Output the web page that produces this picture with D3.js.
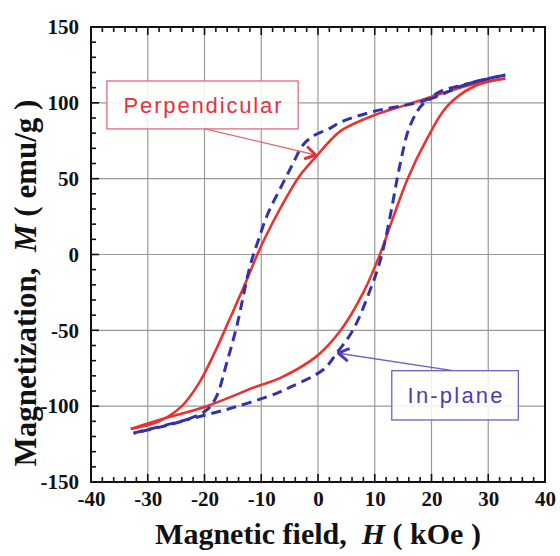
<!DOCTYPE html>
<html>
<head>
<meta charset="utf-8">
<script src="https://cdn.jsdelivr.net/npm/d3@7"></script>
<style>
	body { margin: 0; background: #fff; }
	#chart { width: 560px; height: 556px; }
</style>
</head>
<body>
<div id="chart"></div>
<script>
// ----------------------------------
// data (H in kOe, M in emu/g)
// ----------------------------------
const xTicks = [-40, -30, -20, -10, 0, 10, 20, 30, 40];
const yTicks = [-150, -100, -50, 0, 50, 100, 150];

// perpendicular loop, red solid
const perpDown = [[33,116],[27,112],[20,104],[15,98],[10,92],[4.2,82],[2,74.5],[0,66],[-3.4,51],[-6.4,32],[-9.2,12],[-10.8,-1],[-12.8,-19],[-15.5,-42],[-18,-63],[-21,-85],[-24,-100],[-28,-110],[-33,-115]];
const perpUp = [[-33,-115],[-27,-108],[-19.6,-100],[-10.8,-87],[-6.7,-81.5],[-0.2,-67],[4,-50],[8,-25],[10.9,0],[13.3,25],[15.8,50],[19.1,75.5],[22.7,97.5],[27.4,110.6],[33,116]];

// in-plane loop, blue dashed
const inDown = [[33,118.4],[26.8,113],[21.5,107.4],[19.1,102],[9.8,94.3],[4.2,87.6],[2.1,83.2],[-1.1,77.5],[-2.9,71],[-4.1,62.3],[-5.9,49],[-8.8,27.2],[-10.5,9.6],[-12,-8],[-14.3,-47],[-16.1,-71.7],[-17.9,-93.7],[-19.6,-102.5],[-23.2,-109],[-32.5,-117.8]];
const inUp = [[-32.5,-117.8],[-23.2,-109],[-15,-101],[-7.3,-91.5],[-4.9,-87.5],[0.9,-76],[3.3,-65],[6.2,-49.6],[9.2,-23.3],[11,-3.6],[12.7,25],[14.4,58.3],[16.2,84.7],[18.6,99.7],[21.5,105],[26.8,113],[33,118.4]];

// labels: box corners, arrow start and tip (data units)
const labelNames = ['Perpendicular', 'In-plane'];
const labelBoxes = [[-37.2,114.4,-3.5,82.8],[13.0,-76.6,35.3,-109.1]];
const labelArrows = [[-19.9,82.8,-0.4,65.6],[23.8,-76.6,3.6,-65.1]];

const serif = '"Liberation Serif", "Times New Roman", serif';
const sans = '"Liberation Sans", Arial, sans-serif';

const container = d3.select('#chart'),
		width = 560,
		height = 556,
		margin = {top: 27, right: 15, bottom: 74, left: 91},
		innerWidth = width - margin.left - margin.right,
		innerHeight = height - margin.top - margin.bottom;

const xScale = d3.scaleLinear().domain([-40, 40]).range([0, innerWidth]);
const yScale = d3.scaleLinear().domain([-150, 150]).range([innerHeight, 0]);

const svg = container.append('svg')
	.attr('width', width)
	.attr('height', height);

const g = svg.append('g')
	.attr('transform', `translate(${margin.left},${margin.top})`);

// ----------------------------------
// grid
// ----------------------------------
const grid = g.append('g').classed('grid', true);
xTicks.slice(1, -1).forEach(t => {
	grid.append('line')
		.attr('x1', xScale(t)).attr('x2', xScale(t))
		.attr('y1', 0).attr('y2', innerHeight)
		.style('stroke', '#999').style('stroke-width', 1.2);
});
yTicks.slice(1, -1).forEach(t => {
	grid.append('line')
		.attr('x1', 0).attr('x2', innerWidth)
		.attr('y1', yScale(t)).attr('y2', yScale(t))
		.style('stroke', '#999').style('stroke-width', 1.2);
});

// ----------------------------------
// axes, ticks inward
// ----------------------------------
const xMinor = d3.range(-40, 40.1, 2);
const yMinor = d3.range(-150, 150.1, 10);

function tickLen(v, step){ return Math.abs(v % step) < 1e-6 ? 8 : 5; }

const ticks = g.append('g').classed('ticks', true);
xMinor.forEach(v => {
	const L = tickLen(v, 10);
	ticks.append('line').attr('x1', xScale(v)).attr('x2', xScale(v))
		.attr('y1', innerHeight).attr('y2', innerHeight - L);
	ticks.append('line').attr('x1', xScale(v)).attr('x2', xScale(v))
		.attr('y1', 0).attr('y2', L);
});
yMinor.forEach(v => {
	const L = tickLen(v, 50);
	ticks.append('line').attr('x1', 0).attr('x2', L)
		.attr('y1', yScale(v)).attr('y2', yScale(v));
});
ticks.selectAll('line').style('stroke', '#111').style('stroke-width', 1.6);

// plain hyphen for negatives, like the original
const xAxis = d3.axisBottom(xScale).tickValues(xTicks).tickSize(0).tickPadding(9).tickFormat(d => String(d));
const yAxis = d3.axisLeft(yScale).tickValues(yTicks).tickSize(0).tickPadding(12).tickFormat(d => String(d));

g.append('g')
	.attr('class', 'x axis')
	.attr('transform', `translate(0,${innerHeight})`)
	.call(xAxis)
	.call(s => s.select('.domain').remove());

g.append('g')
	.attr('class', 'y axis')
	.call(yAxis)
	.call(s => s.select('.domain').remove());

g.selectAll('.axis text')
	.style('font-family', serif)
	.style('font-size', '21px')
	.style('font-weight', 'bold')
	.style('fill', '#111');

// frame
g.append('rect')
	.attr('width', innerWidth)
	.attr('height', innerHeight)
	.style('fill', 'none')
	.style('stroke', '#111')
	.style('stroke-width', 2);

// ----------------------------------
// loops
// ----------------------------------
const line = d3.line()
	.x(d => xScale(d[0]))
	.y(d => yScale(d[1]))
	.curve(d3.curveCatmullRom.alpha(0.5));

const loops = g.append('g').classed('loops', true);
[perpDown, perpUp].forEach(branch => {
	loops.append('path')
		.datum(branch)
		.attr('d', line)
		.style('fill', 'none')
		.style('stroke', '#e8332f')
		.style('stroke-width', 2.6);
});
[inDown, inUp].forEach(branch => {
	loops.append('path')
		.datum(branch)
		.attr('d', line)
		.style('fill', 'none')
		.style('stroke', '#3232ae')
		.style('stroke-width', 3)
		.style('stroke-dasharray', '10,6');
});

// ----------------------------------
// labels with arrows
// ----------------------------------
const labelText = ['#e5323a', '#4a3fae'];
const labelStroke = ['#e36a78', '#6d61c4'];
const labelWidth = [158, 95];
const labels = g.append('g').classed('labels', true);

labelNames.forEach((name, i) => {
	const b = labelBoxes[i], a = labelArrows[i];
	const x0 = xScale(b[0]), y0 = yScale(b[1]), x1 = xScale(b[2]), y1 = yScale(b[3]);
	labels.append('rect')
		.attr('x', x0).attr('y', y0)
		.attr('width', x1 - x0).attr('height', y1 - y0)
		.style('fill', 'rgba(255,255,255,0.85)')
		.style('stroke', labelStroke[i])
		.style('stroke-width', 1.3);
	labels.append('text')
		.attr('x', (x0 + x1) / 2)
		.attr('y', (y0 + y1) / 2)
		.attr('dy', '0.36em')
		.attr('text-anchor', 'middle')
		.attr('textLength', labelWidth[i])
		.attr('lengthAdjust', 'spacing')
		.style('font-family', sans)
		.style('font-size', '22px')
		.style('fill', labelText[i])
		.text(name);

	const sx = xScale(a[0]), sy = yScale(a[1]), tx = xScale(a[2]), ty = yScale(a[3]);
	labels.append('line')
		.attr('x1', sx).attr('y1', sy).attr('x2', tx).attr('y2', ty)
		.style('stroke', labelStroke[i])
		.style('stroke-width', 1.3);
	const ang = Math.atan2(sy - ty, sx - tx), wing = 11, spread = 0.55;
	labels.append('path')
		.attr('d', `M${tx + wing * Math.cos(ang - spread)},${ty + wing * Math.sin(ang - spread)}
			L${tx},${ty}
			L${tx + wing * Math.cos(ang + spread)},${ty + wing * Math.sin(ang + spread)}`)
		.style('fill', 'none')
		.style('stroke', labelText[i])
		.style('stroke-width', 3)
		.style('stroke-linejoin', 'round')
		.style('stroke-linecap', 'round');
});

// ----------------------------------
// axis titles
// ----------------------------------
const xTitle = svg.append('text')
	.attr('x', margin.left + innerWidth / 2)
	.attr('y', 544)
	.attr('text-anchor', 'middle')
	.style('font-family', serif)
	.style('font-size', '30px')
	.style('font-weight', 'bold')
	.style('fill', '#111');
xTitle.append('tspan').text('Magnetic field,\u00a0\u00a0');
xTitle.append('tspan').style('font-style', 'italic').text('H');
xTitle.append('tspan').text('\u00a0(\u00a0kOe\u00a0)');

const yTitle = svg.append('text')
	.attr('transform', 'translate(36,283) rotate(-90)')
	.attr('text-anchor', 'middle')
	.style('font-family', serif)
	.style('font-size', '31px')
	.style('font-weight', 'bold')
	.style('fill', '#111');
yTitle.append('tspan').text('Magnetization,\u00a0\u00a0');
yTitle.append('tspan').style('font-style', 'italic').text('M');
yTitle.append('tspan').text('\u00a0(\u00a0emu/g\u00a0)');
</script>
</body>
</html>
